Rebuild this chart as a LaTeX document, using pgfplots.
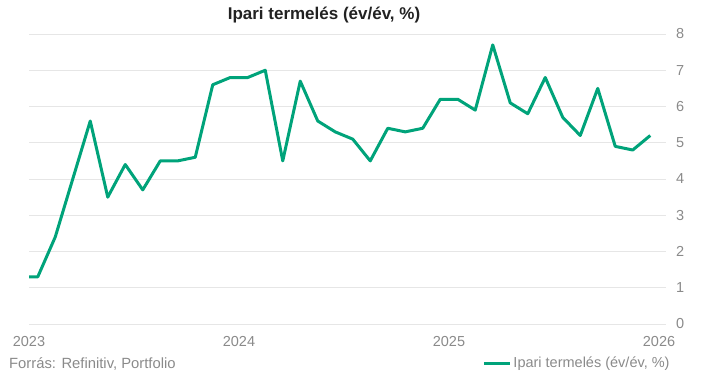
\documentclass[border=0pt]{standalone}
\usepackage{pgfplots}
\pgfplotsset{compat=1.18}
\usepackage{fontspec}
\setmainfont{Liberation Sans}
\definecolor{serie}{HTML}{00A37A}
\definecolor{gridc}{HTML}{E6E6E6}
\definecolor{lab}{HTML}{8A8A8A}
\definecolor{ttl}{HTML}{222222}
\begin{document}
\begin{tikzpicture}[x=1pt,y=1pt]
\useasboundingbox (0,0) rectangle (718,378);
\begin{axis}[
  at={(29pt,54pt)}, anchor=south west,
  scale only axis, width=637pt, height=290pt,
  xmin=0, xmax=36.4, ymin=0, ymax=8,
  axis line style={draw=none},
  tick style={draw=none},
  ymajorgrids, major grid style={color=gridc, line width=1pt},
  ytick={0,1,...,8},
  xtick={0,12,24,36}, xticklabels={2023,2024,2025,2026},
  yticklabel pos=right,
  /pgf/number format/assume math mode=true,
  ticklabel style={font=\fontsize{14.5}{16}\selectfont, color=lab},
  yticklabel style={anchor=west, inner sep=0pt, xshift=10pt},
  xticklabel style={anchor=north, inner sep=0pt, yshift=-12pt},
  legend style={at={(1.009,-0.1345)}, anchor=east, draw=none, fill=none,
    font=\fontsize{14.5}{16}\selectfont, text=lab, inner sep=0pt,
    /tikz/every even column/.append style={column sep=0pt}},
  legend image code/.code={\draw[#1, line width=3pt] (0pt,0pt) -- (26pt,0pt);},
  clip=true,
]
\addplot[color=serie, line width=3pt, line join=round, mark=none] coordinates {
(-0.5,1.3)(0.5,1.3)(1.5,2.4)(2.5,4.0)(3.5,5.6)(4.5,3.5)(5.5,4.4)(6.5,3.7)
(7.5,4.5)(8.5,4.5)(9.5,4.6)(10.5,6.6)(11.5,6.8)(12.5,6.8)(13.5,7.0)(14.5,4.5)
(15.5,6.7)(16.5,5.6)(17.5,5.3)(18.5,5.1)(19.5,4.5)(20.5,5.4)(21.5,5.3)(22.5,5.4)
(23.5,6.2)(24.5,6.2)(25.5,5.9)(26.5,7.7)(27.5,6.1)(28.5,5.8)(29.5,6.8)(30.5,5.7)
(31.5,5.2)(32.5,6.5)(33.5,4.9)(34.5,4.8)(35.5,5.2)
};
\addlegendentry{Ipari termelés (év/év, \%)}
\end{axis}
\node[font=\bfseries\fontsize{17}{19}\selectfont, color=ttl] at (324,363) {Ipari termelés (év/év, \%)};
\node[font=\fontsize{14.8}{16}\selectfont, color=lab, anchor=west, inner sep=0pt] at (9,14) {Forrás: Refinitiv, Portfolio};
\end{tikzpicture}
\end{document}
